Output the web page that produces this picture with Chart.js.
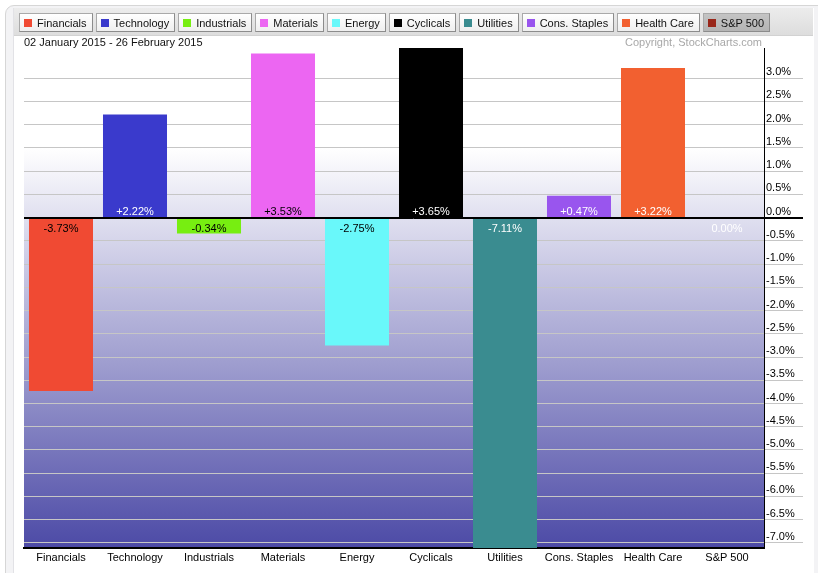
<!DOCTYPE html>
<html>
<head>
<meta charset="utf-8">
<script src="https://cdn.jsdelivr.net/npm/chart.js@4.4.1/dist/chart.umd.min.js"></script>
<style>
  html, body { margin: 0; padding: 0; background: #fff; }
  body { width: 818px; height: 573px; position: relative; overflow: hidden;
         font-family: "Liberation Sans", Arial, Helvetica, sans-serif; }
  #panel { position: absolute; left: 5px; top: 5px; width: 840px; height: 620px;
           border: 1px solid #d6d6d6; border-radius: 9px; background: #f3f3f5; }
  #inner { position: absolute; left: 13px; top: 8px; width: 800px; height: 600px;
           background: #fff; border-left: 1px solid #e2e2e6; }
  #band { position: absolute; left: 14px; top: 8px; width: 799px; height: 28px;
          background: linear-gradient(#ececec, #dddddd); border-bottom: 1px solid #d2d2d2; box-sizing: border-box; }
  #legend { position: absolute; left: 19px; top: 13px; display: flex; gap: 3px; z-index: 3; }
  .item { height: 19px; box-sizing: border-box; border: 1px solid #a9a9a9; border-right-color: #8c8c8c; border-bottom-color: #8c8c8c;
          background: linear-gradient(#ffffff, #efefef); display: flex; align-items: center;
          padding: 0 5px 0 4px; font-size: 11px; color: #111; white-space: nowrap; }
  .item.sel { background: linear-gradient(#c4c4c4, #b4b4b4); }
  .sw { width: 8px; height: 8px; margin-right: 5px; flex: none; }
  #range { position: absolute; left: 24px; top: 36px; line-height: 13px; font-size: 11px; color: #111; z-index: 3; }
  #copy { position: absolute; right: 56px; top: 36px; line-height: 13px; font-size: 11px; color: #a8a8a8; z-index: 3; }
  #c { position: absolute; left: 0; top: 0; z-index: 2; }
</style>
</head>
<body>
<div id="panel"></div>
<div id="inner"></div>
<div id="band"></div>
<div id="legend"></div>
<div id="range">02 January 2015 - 26 February 2015</div>
<div id="copy">Copyright, StockCharts.com</div>
<canvas id="c" width="818" height="573" style="width:818px;height:573px"></canvas>
<script>
var sectors = ['Financials', 'Technology', 'Industrials', 'Materials', 'Energy', 'Cyclicals', 'Utilities', 'Cons. Staples', 'Health Care', 'S&P 500'];
var perfPct = [-3.73, 2.22, -0.34, 3.53, -2.75, 3.65, -7.11, 0.47, 3.22, 0.00];
var barColors = ['#f04a33', '#3a3acc', '#77ee11', '#ec66f2', '#69f8fa', '#000000', '#3a8c90', '#9955ee', '#f26030', '#99271a'];
var labelColors = ['#000', '#fff', '#000', '#000', '#000', '#fff', '#fff', '#fff', '#fff', '#fff'];

// legend buttons
var legendBox = document.getElementById('legend');
sectors.forEach(function (s, i) {
    var it = document.createElement('div');
    it.className = 'item' + (i == sectors.length - 1 ? ' sel' : '');
    var sw = document.createElement('span');
    sw.className = 'sw';
    sw.style.background = barColors[i];
    it.appendChild(sw);
    it.appendChild(document.createTextNode(s));
    legendBox.appendChild(it);
});

const FONT = '"Liberation Sans", Arial, sans-serif';

// plot area gradient
const bgPlugin = {
    id: 'bg',
    beforeDraw(chart) {
        const a = chart.chartArea, ctx = chart.ctx;
        const g = ctx.createLinearGradient(0, a.top, 0, a.bottom);
        g.addColorStop(0, '#ffffff');
        g.addColorStop(0.2, '#ffffff');
        g.addColorStop(1, 'rgb(76,74,166)');
        ctx.save();
        ctx.fillStyle = g;
        ctx.fillRect(a.left, a.top, a.right - a.left, a.bottom - a.top);
        ctx.restore();
    }
};

// zero line + value labels
const labelPlugin = {
    id: 'vals',
    afterDatasetsDraw(chart) {
        const ctx = chart.ctx, ys = chart.scales.y, a = chart.chartArea;
        const y0 = Math.round(ys.getPixelForValue(0)) + 0.5;
        ctx.save();
        ctx.strokeStyle = '#000';
        ctx.lineWidth = 1;
        ctx.beginPath();
        ctx.moveTo(a.left, y0);
        ctx.lineTo(a.right + 39, y0);
        ctx.stroke();
        ctx.font = '11px ' + FONT;
        ctx.textAlign = 'center';
        ctx.textBaseline = 'middle';
        chart.getDatasetMeta(0).data.forEach(function (bar, i) {
            var v = perfPct[i];
            var txt = (v > 0 ? '+' : '') + v.toFixed(2) + '%';
            ctx.fillStyle = labelColors[i];
            ctx.fillText(txt, bar.x, v > 0 ? y0 - 7 : y0 + 10);
        });
        ctx.restore();
    }
};

const myChart = new Chart(document.getElementById('c'), {
    type: 'bar',
    data: {
        labels: sectors,
        datasets: [{
            data: perfPct,
            backgroundColor: barColors,
            borderWidth: 0,
            categoryPercentage: 1,
            barPercentage: 0.865
        }]
    },
    options: {
        responsive: false,
        animation: false,
        layout: { padding: { left: 24, top: 48, right: 15, bottom: 5 } },
        plugins: { legend: { display: false }, tooltip: { enabled: false } },
        scales: {
            x: {
                grid: { display: false, drawTicks: false, tickLength: 0 },
                border: { display: true, color: '#000', width: 2 },
                ticks: { color: '#000', font: { size: 11, family: FONT }, padding: 3, maxRotation: 0, autoSkip: false },
                afterFit(s) { s.height = 20; }
            },
            y: {
                position: 'right',
                min: -7.11,
                max: 3.65,
                grid: {
                    color: ctx => (ctx.tick && ctx.tick.value === 0) ? '#000' : '#c6c6c6',
                    lineWidth: 1,
                    drawTicks: true,
                    tickLength: 39
                },
                border: { display: true, color: '#000', width: 1 },
                ticks: {
                    stepSize: 0.5,
                    includeBounds: false,
                    padding: -37,
                    labelOffset: -6,
                    color: '#000',
                    font: { size: 11, family: FONT },
                    callback: v => v.toFixed(1) + '%'
                },
                afterBuildTicks(s) { s.ticks = s.ticks.filter(t => t.value <= 3.0001); },
                afterFit(s) { s.width = 39; }
            }
        }
    },
    plugins: [bgPlugin, labelPlugin]
});
</script>
</body>
</html>
